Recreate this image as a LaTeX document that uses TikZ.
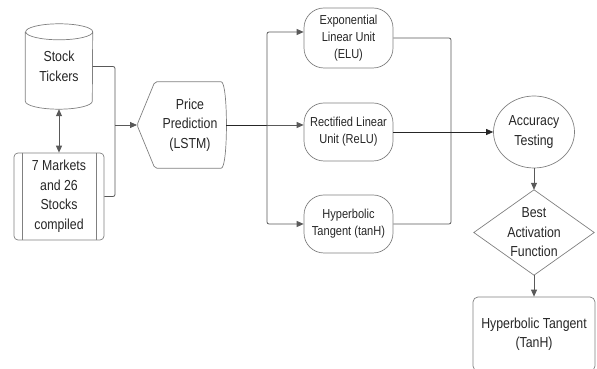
\documentclass[tikz,border=0pt]{standalone}
\usepackage{fontspec}
\setmainfont{Liberation Sans}[FakeStretch=0.85]
\usetikzlibrary{shapes.geometric,arrows.meta}

\begin{document}
\begin{tikzpicture}[x=1pt,y=1pt,
    every node/.style={font=\fontsize{14.5}{19.5}\selectfont, text=black!85, align=center},
    shapeline/.style={draw=black!50, line width=0.7pt},
    plain/.style={draw=black!65, line width=0.8pt, rounded corners=2pt},
    conn/.style={plain, -{Triangle[length=7pt,width=6pt]}},
    actbox/.style={shapeline, rectangle, rounded corners=20pt, minimum width=89pt,
        minimum height=58pt, font=\fontsize{13}{17}\selectfont}]
  \useasboundingbox (0,0) rectangle (597,369);
  \clip (0,0) rectangle (597,369);
  % stock tickers (cylinder)
  \node[minimum width=67pt, minimum height=85pt] (tick) at (59,302.5) {Stock\\Tickers};
  \draw[shapeline] ([yshift=-8pt]tick.north west) -- ([yshift=8pt]tick.south west)
      arc[start angle=180, end angle=360, x radius=33.5pt, y radius=8pt]
      -- ([yshift=-8pt]tick.north east)
      arc[start angle=0, end angle=180, x radius=33.5pt, y radius=8pt]
      arc[start angle=180, end angle=360, x radius=33.5pt, y radius=8pt];
  % markets (predefined process)
  \node[shapeline, rounded corners=4pt, minimum width=90pt, minimum height=87pt] (mkt) at (59,172.5)
      {7 Markets\\and 26\\Stocks\\compiled};
  \draw[shapeline] ([xshift=9pt]mkt.north west) -- ([xshift=9pt]mkt.south west);
  \draw[shapeline] ([xshift=-8pt]mkt.north east) -- ([xshift=-8pt]mkt.south east);
  % price prediction (display)
  \node[minimum width=72pt, minimum height=86pt] (pp) at (190,244) {Price\\Prediction\\(LSTM)};
  \coordinate (pptip) at (137,244);
  \draw[shapeline, rounded corners=2pt] (pptip) -- ([xshift=1pt]pp.north west) -- ([xshift=-7pt]pp.north east)
      .. controls ([xshift=2pt]pp.north east) and ([xshift=2pt]pp.south east) .. ([xshift=-7pt]pp.south east)
      -- ([xshift=1pt]pp.south west) -- cycle;
  % activation functions
  \node[actbox, minimum height=60pt] (elu) at (348.5,331) {Exponential\\Linear Unit\\(ELU)};
  \node[actbox] (relu) at (348.5,237) {Rectified Linear\\Unit (ReLU)};
  \node[actbox] (tanh) at (348.5,145) {Hyperbolic\\Tangent (tanH)};
  % testing and decision
  \node[shapeline, ellipse, minimum width=81pt, minimum height=72pt, inner sep=0pt] (acc) at (534,237)
      {Accuracy\\Testing};
  \node[minimum width=120pt, minimum height=85pt] (best) at (534,136.5) {Best\\Activation\\Function};
  \draw[shapeline] (best.north) -- (best.east) -- (best.south) -- (best.west) -- cycle;
  \node[shapeline, rounded corners=5pt, minimum width=122pt, minimum height=74pt] (fin) at (534,35)
      {Hyperbolic Tangent\\(TanH)};
  % connectors
  \draw[plain, {Triangle[length=7pt,width=6pt]}-{Triangle[length=7pt,width=6pt]}] (tick.south) -- (mkt.north);
  \coordinate (join) at (115,244);
  \draw[plain] (tick.east) -| (join);
  \draw[plain] (mkt.east) -| (join);
  \draw[conn] (join) -- (pptip);
  \coordinate (fork) at (267,244);
  \draw[plain, black!85] (pp.east) -- (fork);
  \draw[conn] (fork) |- ([yshift=6pt]elu.west);
  \draw[conn] (fork) -- (fork -| relu.west);
  \draw[conn] (fork) |- (tanh.west);
  \coordinate (merge) at (451,237);
  \draw[plain] (elu.east) -| (merge);
  \draw[plain] (tanh.east) -| (merge);
  \draw[conn, black!85] (relu.east) -- (acc.west);
  \draw[conn] (acc.south) -- (best.north);
  \draw[conn] (best.south) -- (fin.north);
\end{tikzpicture}
\end{document}
